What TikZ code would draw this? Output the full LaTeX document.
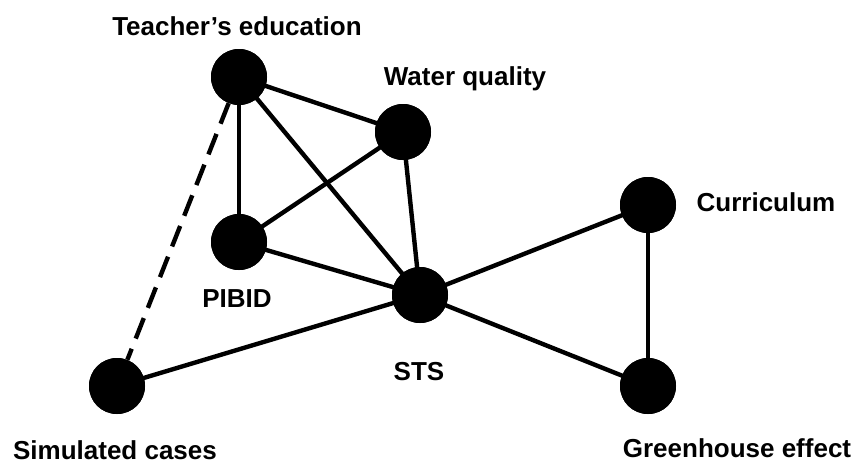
\documentclass[tikz,border=0pt]{standalone}
\usepackage{fontspec}
\setmainfont{Liberation Sans}
\begin{document}
\begin{tikzpicture}[x=1pt,y=-1pt,
  dot/.style={circle,fill=black,minimum size=56pt,inner sep=0pt},
  lab/.style={font=\bfseries\fontsize{26}{30}\selectfont,inner sep=0pt,anchor=base},
  edge/.style={line width=4.4pt},
  dashedge/.style={line width=4.4pt,dash pattern=on 22pt off 11pt}]
\useasboundingbox (0,0) rectangle (855,464);
\fill[white] (0,0) rectangle (855,464);
\node[dot] (T) at (239,77) {};
\node[dot] (W) at (403,132) {};
\node[dot] (P) at (239,242) {};
\node[dot] (S) at (420,295) {};
\node[dot] (C) at (648,205) {};
\node[dot] (G) at (648,386) {};
\node[dot] (M) at (117,386) {};
\draw[edge] (T.center) -- (W.center);
\draw[edge] (T.center) -- (P.center);
\draw[edge] (T.center) -- (S.center);
\draw[edge] (W.center) -- (P.center);
\draw[edge] (W.center) -- (S.center);
\draw[edge] (P.center) -- (S.center);
\draw[edge] (S.center) -- (M.center);
\draw[edge] (S.center) -- (C.center);
\draw[edge] (S.center) -- (G.center);
\draw[edge] (C.center) -- (G.center);
\draw[dashedge] (T) -- (M);
\node[dot] at (T) {};
\node[dot] at (W) {};
\node[dot] at (P) {};
\node[dot] at (S) {};
\node[dot] at (C) {};
\node[dot] at (G) {};
\node[dot] at (M) {};
\node[lab] (lT) at (237,35) {Teacher’s education};
\node[lab] (lW) at (465,85) {Water quality};
\node[lab] (lP) at (237,307) {PIBID};
\node[lab] (lS) at (419,380) {STS};
\node[lab] (lC) at (766,211) {Curriculum};
\node[lab] (lG) at (737,457) {Greenhouse effect};
\node[lab,text depth=0pt] (lM) at (115,459) {Simulated cases};
\end{tikzpicture}
\end{document}
